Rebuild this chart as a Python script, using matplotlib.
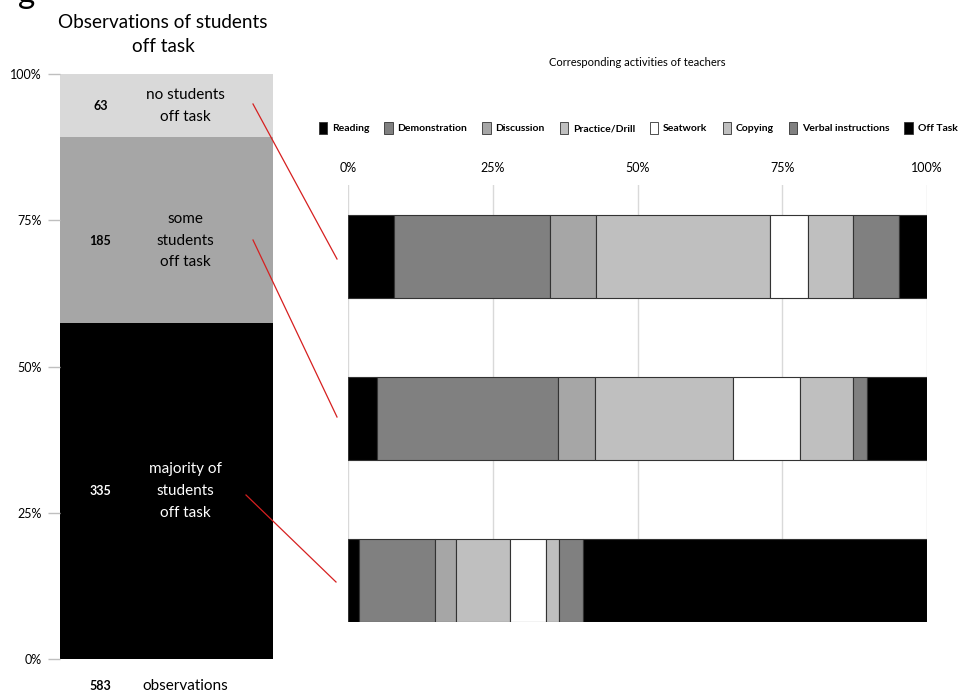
import numpy as np
import matplotlib
matplotlib.use('Agg')
import matplotlib.pyplot as plt
from matplotlib.lines import Line2D
from matplotlib.patches import Patch

plt.rcParams['font.family'] = ['Lato', 'DejaVu Sans']

# left chart: observations of students off task (bottom to top)
obs_counts = [335, 185, 63]
obs_labels = ['majority of\nstudents\noff task', 'some\nstudents\noff task', 'no students\noff task']
obs_colors = ['#000000', '#a6a6a6', '#d9d9d9']
obs_text_colors = ['white', 'black', 'black']
total_obs = 583

# right chart: teacher activities (% of each bar), rows top to bottom
activities = ['Reading', 'Demonstration', 'Discussion', 'Practice/Drill',
              'Seatwork', 'Copying', 'Verbal instructions', 'Off Task']
act_colors = ['#000000', '#808080', '#a6a6a6', '#bfbfbf',
              '#ffffff', '#bfbfbf', '#808080', '#000000']
row_none = [7.9, 27.0, 8.0, 30.0, 6.5, 7.9, 7.8, 4.9]
row_some = [5.0, 31.3, 6.4, 23.8, 11.5, 9.2, 2.5, 10.3]
row_majority = [1.9, 13.1, 3.6, 9.3, 6.3, 2.3, 4.1, 59.4]
rows = [row_none, row_some, row_majority]

W, H = 959, 694
fig = plt.figure(figsize=(W / 100, H / 100), dpi=100)

def px(x0, y_top, w, h):
    return [x0 / W, 1 - (y_top + h) / H, w / W, h / H]

# ---- left stacked bar ----
ax1 = fig.add_axes(px(60, 74, 213, 585))
fracs = np.array(obs_counts) / total_obs
bottoms = np.concatenate([[0], np.cumsum(fracs)[:-1]])
ax1.bar([0] * 3, fracs, bottom=bottoms, width=1, color=obs_colors, linewidth=0)
ax1.set_xlim(-0.5, 0.5)
ax1.set_ylim(0, 1)
for s in ax1.spines.values():
    s.set_visible(False)
ax1.set_xticks([])
ax1.set_yticks([0, 0.25, 0.5, 0.75, 1.0])
ax1.set_yticklabels(['0%', '25%', '50%', '75%', '100%'], fontsize=9)
ax1.tick_params(axis='y', length=9, color='#bfbfbf', width=1, pad=4)

offsets = [0.0, -0.018, 0.0]
for i in range(3):
    yc = bottoms[i] + fracs[i] / 2 + offsets[i]
    ax1.text(0.19, yc, str(obs_counts[i]), transform=ax1.transAxes,
             ha='center', va='center', fontsize=9, fontweight='bold',
             color=obs_text_colors[i])
    ax1.text(0.587, yc, obs_labels[i], transform=ax1.transAxes,
             ha='center', va='center', fontsize=11, color=obs_text_colors[i],
             linespacing=1.72)
ax1.text(0.19, -0.046, str(total_obs), transform=ax1.transAxes,
         ha='center', va='center', fontsize=9, fontweight='bold')
ax1.text(0.587, -0.046, 'observations', transform=ax1.transAxes,
         ha='center', va='center', fontsize=11)

fig.text(163 / W, 1 - 34 / H, 'Observations of students\noff task',
         ha='center', va='center', fontsize=13.6, linespacing=1.5)
fig.text(18 / W, 1 - 3 / H, 'g', fontsize=24, va='baseline', ha='left')

# ---- right stacked horizontal bars ----
ax2 = fig.add_axes(px(348, 185, 579, 437))
ypos = np.arange(len(rows))
lefts = np.zeros(len(rows))
data = np.array(rows)
for j, name in enumerate(activities):
    ax2.barh(ypos, data[:, j], left=lefts, height=0.512, color=act_colors[j],
             edgecolor='#333333', linewidth=0.8, zorder=3)
    lefts += data[:, j]
ax2.set_xlim(0, 100)
ax2.set_ylim(2.256, -0.438)
ax2.set_yticks([])
ax2.set_xticks([0, 25, 50, 75, 100])
ax2.set_xticklabels(['0%', '25%', '50%', '75%', '100%'], fontsize=9)
ax2.xaxis.tick_top()
ax2.tick_params(axis='x', length=0, pad=8)
ax2.grid(axis='x', color='#d9d9d9', linewidth=1, zorder=0)
for s in ax2.spines.values():
    s.set_visible(False)

handles = [Patch(facecolor=c, edgecolor='#333333', linewidth=0.6) for c in act_colors]
fig.legend(handles, activities, loc='center', bbox_to_anchor=(638 / W, 1 - 128 / H),
           ncol=8, frameon=False, prop={'size': 7.5, 'weight': 'bold'},
           handlelength=0.8, handleheight=1.3, handletextpad=0.45, columnspacing=1.45)

fig.text(637 / W, 1 - 62 / H, 'Corresponding activities of teachers',
         ha='center', va='center', fontsize=8)

# red connector lines
lines = [((253, 104), (337, 259)), ((253, 240), (337, 417)), ((246, 495), (336, 582))]
for (x0, y0), (x1, y1) in lines:
    fig.add_artist(Line2D([x0 / W, x1 / W], [1 - y0 / H, 1 - y1 / H],
                          transform=fig.transFigure, color='#d62020', linewidth=0.9))

fig.savefig('out.png', dpi=100)
